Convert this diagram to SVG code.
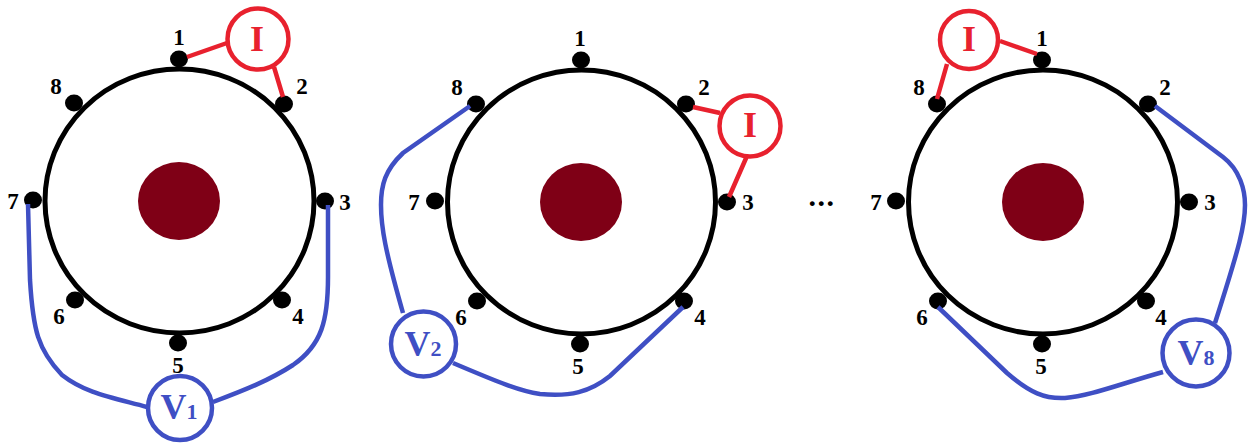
<svg xmlns="http://www.w3.org/2000/svg" width="1248" height="443" viewBox="0 0 1248 443">
<style>
text{font-family:"Liberation Serif","Times New Roman",serif;font-weight:bold;text-anchor:middle}
.ring{fill:#fff;stroke:#000;stroke-width:5}
.core{fill:#7f0016}
.dot{fill:#000}
.n{font-size:23px;fill:#000}
.ic{fill:#fff;stroke:#e8212e;stroke-width:4.5}
.vc{fill:#fff;stroke:#3f4fc4;stroke-width:4.5}
.it{font-size:36px;fill:#e8212e}
.vt{font-size:36px;fill:#3f4fc4}
.vs{font-size:22px}
.red{fill:none;stroke:#e8212e;stroke-width:4.5}
.blue{fill:none;stroke:#3f4fc4;stroke-width:4.5}
</style>
<rect width="1248" height="443" fill="#fff"/>
<g id="disc-1">
<ellipse class="ring" cx="179.5" cy="201" rx="134.5" ry="132"/>
<ellipse class="core" cx="179" cy="201" rx="41" ry="39"/>
<g class="dot"><ellipse cx="179" cy="59" rx="9" ry="8.5"/><ellipse cx="284" cy="104" rx="9" ry="8.5"/><ellipse cx="325" cy="201" rx="9" ry="8.5"/><ellipse cx="282" cy="300" rx="9" ry="8.5"/><ellipse cx="178" cy="343" rx="9" ry="8.5"/><ellipse cx="75" cy="300" rx="9" ry="8.5"/><ellipse cx="33" cy="200" rx="9" ry="8.5"/><ellipse cx="74" cy="103" rx="9" ry="8.5"/></g>
<g class="n"><text x="179" y="45">1</text><text x="302" y="94">2</text><text x="345" y="210">3</text><text x="298" y="324">4</text><text x="178" y="373">5</text><text x="59" y="324">6</text><text x="13" y="209">7</text><text x="56" y="94">8</text></g>
</g>
<g id="disc-2">
<ellipse class="ring" cx="581.5" cy="202" rx="134" ry="132"/>
<ellipse class="core" cx="581" cy="202" rx="41" ry="39"/>
<g class="dot"><ellipse cx="581" cy="60" rx="9" ry="8.5"/><ellipse cx="686" cy="104" rx="9" ry="8.5"/><ellipse cx="727" cy="202" rx="9" ry="8.5"/><ellipse cx="684" cy="301" rx="9" ry="8.5"/><ellipse cx="580" cy="344" rx="9" ry="8.5"/><ellipse cx="477" cy="301" rx="9" ry="8.5"/><ellipse cx="435" cy="201" rx="9" ry="8.5"/><ellipse cx="476" cy="104" rx="9" ry="8.5"/></g>
<g class="n"><text x="580" y="46">1</text><text x="704" y="95">2</text><text x="748" y="210">3</text><text x="700" y="325">4</text><text x="578" y="374">5</text><text x="461" y="325">6</text><text x="414" y="210">7</text><text x="457" y="95">8</text></g>
</g>
<g id="disc-3">
<ellipse class="ring" cx="1043" cy="202" rx="134.5" ry="132"/>
<ellipse class="core" cx="1043" cy="202" rx="41" ry="39"/>
<g class="dot"><ellipse cx="1042" cy="60" rx="9" ry="8.5"/><ellipse cx="1148" cy="104" rx="9" ry="8.5"/><ellipse cx="1189" cy="202" rx="9" ry="8.5"/><ellipse cx="1146" cy="301" rx="9" ry="8.5"/><ellipse cx="1042" cy="344" rx="9" ry="8.5"/><ellipse cx="938" cy="301" rx="9" ry="8.5"/><ellipse cx="896" cy="201" rx="9" ry="8.5"/><ellipse cx="937" cy="104" rx="9" ry="8.5"/></g>
<g class="n"><text x="1042" y="46">1</text><text x="1165" y="95">2</text><text x="1210" y="210">3</text><text x="1161" y="325">4</text><text x="1041" y="374">5</text><text x="922" y="325">6</text><text x="876" y="210">7</text><text x="919" y="95">8</text></g>
</g>
<text id="ellipsis" x="822" y="206" font-size="30" letter-spacing="1.5">...</text>
<g id="connectors">
<path class="red" d="M187 57L227 43M274 67L283 97"/>
<path class="red" d="M693 107L720 113M747 156L729 197"/>
<path class="red" d="M1000 41L1037 54M947 64L937 99"/>
<path class="blue" d="M28 204L30 280C33 330 38 350 62 375C85 393 110 397 147 407"/>
<path class="blue" d="M328 205L328 277C328 320 322 345 293 365C270 380 245 390 213 402"/>
<path class="blue" d="M470 106L403 153C385 170 381 185 381 205C381 227 385 250 403 313"/>
<path class="blue" d="M683 307L610 376C590 392 570 397 540 394C520 391 500 383 453 363"/>
<path class="blue" d="M1155 106L1223 157C1240 170 1245 190 1245 205C1245 225 1240 245 1215 323"/>
<path class="blue" d="M938 307L1007 373C1030 393 1045 399 1065 398C1090 396 1120 384 1163 372"/>
</g>
<g id="I-1"><circle class="ic" cx="258" cy="39" r="30.5"/><text class="it" x="257" y="51">I</text></g>
<g id="I-2"><circle class="ic" cx="750" cy="126" r="30.5"/><text class="it" x="750" y="137">I</text></g>
<g id="I-3"><circle class="ic" cx="969" cy="40" r="29"/><text class="it" x="969" y="51">I</text></g>
<g id="V-1"><circle class="vc" cx="180" cy="408" r="32"/><text class="vt" x="179" y="419">V<tspan class="vs">1</tspan></text></g>
<g id="V-2"><circle class="vc" cx="423.5" cy="344" r="32.5"/><text class="vt" x="423" y="356">V<tspan class="vs">2</tspan></text></g>
<g id="V-8"><circle class="vc" cx="1196" cy="353" r="33.5"/><text class="vt" x="1196" y="365">V<tspan class="vs">8</tspan></text></g>
</svg>
